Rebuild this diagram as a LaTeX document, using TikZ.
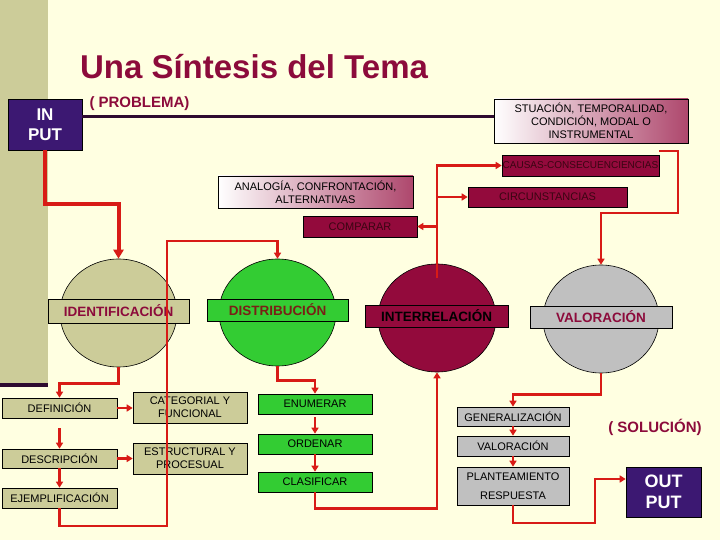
\documentclass[tikz,border=0pt]{standalone}
\usepackage{fontspec}
\setmainfont{Liberation Sans}
\usetikzlibrary{positioning, calc, shapes.geometric, arrows.meta}
\definecolor{cream}{HTML}{FFFFE1}
\definecolor{olive}{HTML}{CCCC99}
\definecolor{wine}{HTML}{930A3C}
\definecolor{winetext}{HTML}{8C0B3B}
\definecolor{winedark}{HTML}{3A0512}
\definecolor{distbrown}{HTML}{7A2015}
\definecolor{plum}{HTML}{3C1872}
\definecolor{rule}{HTML}{2E0B30}
\definecolor{flowred}{HTML}{D81B16}
\definecolor{leaf}{HTML}{33CC33}
\definecolor{silver}{HTML}{C0C0C0}
\tikzstyle{Flow} = [
%red connector with a small filled tip
draw=flowred, line width=2.4pt,
-{Triangle[width=7pt,length=6pt]}
]

\begin{document}
\begin{tikzpicture}[x=1pt, y=-1pt,
				cell/.style = {draw=black, line width=0.6pt, inner sep=0pt, align=center, font=\fontsize{11}{13}\selectfont},
				olivecell/.style = {cell, fill=olive},
				winecell/.style = {cell, fill=wine, text=winedark},
				greencell/.style = {cell, fill=leaf},
				greycell/.style = {cell, fill=silver},
				fadecell/.style = {cell, left color=white, right color=wine!75!white},
				disc/.style = {ellipse, draw=black, line width=0.6pt, inner sep=0pt},
				band/.style = {draw=black, line width=0.6pt, inner sep=0pt, minimum height=22pt, font=\bfseries\fontsize{13.5}{15}\selectfont},
				iobox/.style = {draw=black, line width=0.6pt, fill=plum, text=white, inner sep=0pt, align=center},
				heading/.style = {text=winetext, font=\bfseries\fontsize{15}{17}\selectfont, anchor=base},
			]
			\useasboundingbox (0,0) rectangle (720,540);
			\fill[cream] (0,0) rectangle (720,540);
			\fill[olive] (0,0) rectangle (48,383);
			\fill[rule] (0,383) rectangle (48,387);

			% top row
			\node[heading, font=\bfseries\fontsize{33}{36}\selectfont] (title) at (254,79) {Una Síntesis del Tema};
			\node[iobox, minimum width=74pt, minimum height=51pt, font=\bfseries\fontsize{17}{20}\selectfont] (input) at (45,124.5) {IN\\PUT};
			\node[heading] (problema) at (139.5,108) {( PROBLEMA)};
			\node[fadecell, minimum width=194pt, minimum height=44pt, font=\fontsize{11}{13}\selectfont] (situacion) at (591,121) {STUACIÓN, TEMPORALIDAD,\\CONDICIÓN, MODAL O\\INSTRUMENTAL};
			\draw[rule, line width=3pt] ([yshift=7.5pt]input.east) -- ([yshift=4pt]situacion.west);

			\node[winecell, minimum width=157pt, minimum height=21pt, font=\fontsize{10}{12}\selectfont] (causas) at (580.5,165.5) {CAUSAS-CONSECUENCIENCIAS};
			\node[winecell, minimum width=159pt, minimum height=20pt] (circun) at (547.5,197) {CIRCUNSTANCIAS};
			\node[fadecell, minimum width=195pt, minimum height=32pt, font=\fontsize{11}{13}\selectfont] (analogia) at (315.5,192) {ANALOGÍA, CONFRONTACIÓN,\\ALTERNATIVAS};
			\node[winecell, minimum width=114pt, minimum height=21pt] (comparar) at (360,226.5) {COMPARAR};

			% the four discs
			\node[disc, fill=olive, minimum width=117pt, minimum height=108pt] (identC) at (118.5,313) {};
			\node[band, fill=olive, text=winetext, minimum width=141pt, minimum height=24pt] (ident) at (118.5,311) {IDENTIFICACIÓN};
			\node[disc, fill=leaf, minimum width=117pt, minimum height=107pt] (distC) at (277.5,312.5) {};
			\node[band, fill=leaf, text=distbrown, minimum width=141pt] (dist) at (277.5,310) {DISTRIBUCIÓN};
			\node[disc, fill=wine, minimum width=118pt, minimum height=108pt] (interC) at (437,318) {};
			\node[band, fill=wine, text=black, minimum width=143pt] (inter) at (436.5,316) {INTERRELACIÓN};
			\node[disc, fill=silver, minimum width=116pt, minimum height=108pt] (valorC) at (601,319) {};
			\node[band, fill=silver, text=winetext, minimum width=142pt] (valor) at (601,317) {VALORACIÓN};

			% lower boxes
			\node[olivecell, minimum width=115pt, minimum height=20pt] (defin) at (59.5,408) {DEFINICIÓN};
			\node[olivecell, minimum width=115pt, minimum height=19pt] (descr) at (59.5,458.5) {DESCRIPCIÓN};
			\node[olivecell, minimum width=115pt, minimum height=20pt] (ejemp) at (59.5,498) {EJEMPLIFICACIÓN};
			\node[olivecell, minimum width=114pt, minimum height=31pt] (categ) at (190,407.5) {CATEGORIAL Y\\FUNCIONAL};
			\node[olivecell, minimum width=114pt, minimum height=31pt] (estruc) at (190,458.5) {ESTRUCTURAL Y\\PROCESUAL};
			\node[greencell, minimum width=114pt, minimum height=20pt] (enum) at (315,404) {ENUMERAR};
			\node[greencell, minimum width=114pt, minimum height=20pt] (orden) at (315,444) {ORDENAR};
			\node[greencell, minimum width=114pt, minimum height=20pt] (clasif) at (315,482) {CLASIFICAR};
			\node[greycell, minimum width=112pt, minimum height=19pt] (gener) at (513,416.5) {GENERALIZACIÓN};
			\node[greycell, minimum width=112pt, minimum height=20pt] (valor2) at (513,446) {VALORACIÓN};
			\node[greycell, minimum width=112pt, minimum height=38pt, font=\fontsize{11}{19}\selectfont] (plant) at (513,486) {PLANTEAMIENTO\\RESPUESTA};
			\node[iobox, minimum width=75pt, minimum height=50pt, font=\bfseries\fontsize{18}{21}\selectfont] (output) at (663.5,492) {OUT\\PUT};
			\node[heading] (solucion) at (655,432) {( SOLUCIÓN)};

			\coordinate (bend1) at (118.5,204);
			\coordinate (bend2) at (678,213);
			\coordinate (bend3) at (167,526);
			\coordinate (bend4) at (167,241);
			\coordinate (bend5) at (595,523);

			\draw[Flow, line width=4pt, -{Triangle[width=10pt,length=9pt]}] (input.south) |- (bend1) -- (identC.north);
			\draw[Flow] ([yshift=-14pt]interC.north) |- (causas.west);
			\draw[Flow] (interC.north |- circun.west) -- (circun.west);
			\draw[Flow] (interC.north |- comparar.east) -- (comparar.east);
			\draw[Flow] ([xshift=-29pt,yshift=-8pt]situacion.south east) -| (bend2) -| (valorC.north);
			\draw[Flow] (ejemp.south) |- (bend3) -- (bend4) -| (distC.north);

			\draw[Flow] (identC.south) -- ++(0,16) -| (defin.north);
			\draw[Flow] (defin.east) -- (defin.east -| categ.west);
			\draw[Flow] ([yshift=-10pt]defin.south) -- (descr.north);
			\draw[Flow] (descr.east) -- (descr.east -| estruc.west);
			\draw[Flow] (descr.south) -- (ejemp.north);

			\draw[Flow] (distC.south) -- ++(0,14) -| (enum.north);
			\draw[Flow] ([yshift=-3pt]enum.south) -- (orden.north);
			\draw[Flow] (orden.south) -- (clasif.north);
			\draw[Flow] (clasif.south) -- ++(0,16) -| (interC.south);

			\draw[Flow] (valorC.south) -- ++(0,21) -| (gener.north);
			\draw[Flow] (gener.south) -- (valor2.north);
			\draw[Flow] (valor2.south) -- (plant.north);
			\draw[Flow] (plant.south) |- (bend5) |- ([yshift=13pt]output.west);
		\end{tikzpicture}
\end{document}
